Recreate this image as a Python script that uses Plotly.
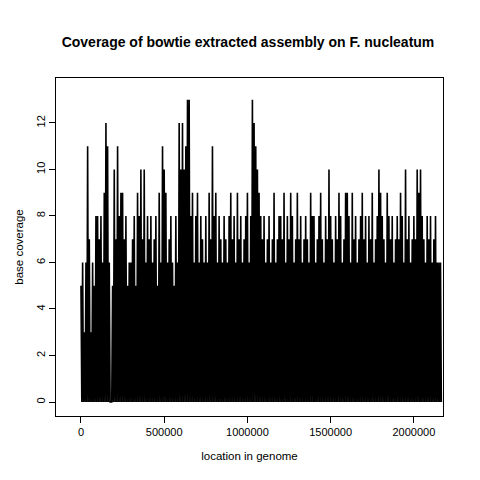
import plotly.graph_objects as go

# peak coverage, one value per ~10 kb window
peaks = [5, 6, 3, 6, 11, 7, 3, 6, 5, 8,
         8, 7, 8, 6, 9, 12, 11, 6, 0, 5,
         10, 7, 11, 8, 9, 9, 7, 8, 5, 6,
         6, 7, 8, 5, 9, 8, 10, 7, 10, 6,
         8, 7, 8, 6, 7, 8, 5, 9, 6, 11,
         10, 9, 6, 7, 8, 6, 5, 8, 6, 12,
         10, 12, 10, 11, 13, 13, 8, 9, 6, 8,
         9, 6, 8, 7, 6, 8, 6, 9, 7, 11,
         8, 9, 6, 8, 7, 6, 8, 7, 6, 8,
         9, 7, 8, 6, 9, 7, 8, 6, 7, 8,
         9, 6, 8, 13, 12, 11, 10, 9, 8, 7,
         8, 6, 7, 8, 6, 7, 9, 6, 7, 8,
         8, 7, 9, 6, 8, 7, 9, 8, 6, 7,
         9, 7, 8, 6, 7, 8, 7, 6, 9, 8,
         8, 6, 7, 8, 9, 7, 6, 8, 7, 10,
         8, 7, 6, 8, 7, 9, 8, 6, 7, 9,
         9, 8, 6, 9, 7, 8, 6, 7, 8, 9,
         7, 8, 6, 8, 7, 9, 6, 7, 8, 10,
         9, 8, 7, 6, 9, 8, 7, 8, 6, 7,
         8, 7, 9, 8, 6, 10, 7, 8, 6, 7,
         8, 7, 10, 9, 10, 8, 7, 6, 8, 7,
         8, 6, 7, 8, 6, 6, 6]
troughs = [0] * len(peaks)
STEP = 10000

xs, ys = [], []
for i, (p, t) in enumerate(zip(peaks, troughs)):
    xs += [i * STEP, i * STEP + STEP / 2]
    ys += [p, t]

fig = go.Figure(go.Scatter(x=xs, y=ys, mode="lines",
                           line=dict(color="black", width=1.6), showlegend=False))

ax = dict(showline=True, mirror=True, linecolor="black", linewidth=1,
          ticks="outside", ticklen=6, tickcolor="black", showgrid=False,
          zeroline=False, tickfont=dict(size=11, color="black"))
fig.update_layout(
    width=480, height=480, plot_bgcolor="white", paper_bgcolor="white",
    font=dict(family="Liberation Sans, Arial, sans-serif", color="black"),
    title=dict(text="<b>Coverage of bowtie extracted assembly on F. nucleatum</b>",
               x=0.5, xanchor="center", y=0.94, font=dict(size=14)),
    margin=dict(l=48, r=45, t=70, b=72),
    xaxis=dict(ax, range=[-150000, 2175000], tickvals=[0, 500000, 1000000, 1500000, 2000000],
               ticktext=["0", "500000", "1000000", "1500000", "2000000"],
               title=dict(text="location in genome", font=dict(size=11.5), standoff=14)),
    yaxis=dict(ax, range=[-0.6, 13.93], tickvals=[0, 2, 4, 6, 8, 10, 12], tickangle=-90,
               title=dict(text="base coverage", font=dict(size=11.5), standoff=8)),
)
fig.write_html("out.html")
